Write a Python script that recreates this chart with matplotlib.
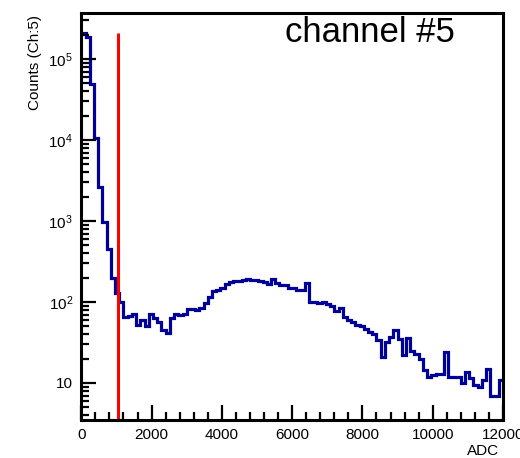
import matplotlib
matplotlib.use("Agg")
import matplotlib.pyplot as plt
import numpy as np
from matplotlib.ticker import FixedLocator, LogLocator, NullFormatter, MultipleLocator

plt.rcParams['font.family'] = ['Liberation Sans', 'DejaVu Sans']

# ---- data ----
adc_min = 0
adc_max = 12000
n_bins = 100
counts = [
    2.1e5, 1.87e5, 4.9e4, 1.05e4, 2630, 960, 450, 198, 129, 100,
    66, 68, 71, 52, 60, 50, 72, 63, 57, 45,
    41, 63, 72, 70, 72, 82, 82, 80, 85, 96,
    116, 138, 140, 150, 166, 175, 180, 183, 185, 190,
    188, 186, 184, 176, 166, 190, 172, 162, 162, 150,
    148, 141, 141, 170, 100, 100, 98, 100, 95, 88,
    78, 85, 66, 60, 57, 52, 50, 47, 43, 40,
    34, 21, 32, 37, 45, 35, 22, 36, 25, 23,
    20, 14.5, 12, 12.6, 13, 13, 24, 11.7, 11.7, 11.7,
    10, 13.8, 11.5, 9.4, 9, 11, 14.8, 7, 7, 11,
]
threshold_adc = 1040
title = "channel #5"
xlabel = "ADC"
ylabel = "Counts (Ch:5)"
x_ticks = [0, 2000, 4000, 6000, 8000, 10000, 12000]
x_tick_labels = ["0", "2000", "4000", "6000", "8000", "10000", "12000"]
y_ticks = [10, 1e2, 1e3, 1e4, 1e5]
y_tick_labels = ["10", r"$\mathregular{10^{2}}$", r"$\mathregular{10^{3}}$",
                 r"$\mathregular{10^{4}}$", r"$\mathregular{10^{5}}$"]
y_range = (3.49, 3.7e5)

# ---- figure ----
W, H = 520, 458
fig = plt.figure(figsize=(W / 100, H / 100), dpi=100)
ax = fig.add_axes([81.3 / W, 1 - 420 / H, (503 - 81.3) / W, (420 - 13) / H])

edges = np.linspace(adc_min, adc_max, n_bins + 1)
ax.stairs(counts, edges, baseline=None, color='#000099', linewidth=2.3)
ax.plot([threshold_adc, threshold_adc], [y_range[0], max(counts)],
        color='#ff0000', linewidth=2.2, solid_capstyle='butt')

ax.set_yscale('log')
ax.set_xlim(adc_min, adc_max)
ax.set_ylim(*y_range)

ax.xaxis.set_major_locator(FixedLocator(x_ticks))
ax.set_xticklabels(x_tick_labels)
ax.xaxis.set_minor_locator(MultipleLocator(400))
ax.yaxis.set_major_locator(FixedLocator(y_ticks))
ax.set_yticklabels(y_tick_labels)
ax.yaxis.set_minor_locator(LogLocator(base=10, subs=np.arange(2, 10)))
ax.yaxis.set_minor_formatter(NullFormatter())

ax.tick_params(which='both', direction='in', top=False, right=False,
               labelsize=11, width=1.6, color='black')
ax.tick_params(which='major', length=11)
ax.tick_params(which='minor', length=6)
ax.tick_params(axis='x', pad=6)
ax.tick_params(axis='y', pad=6)
for s in ax.spines.values():
    s.set_linewidth(2.2)
    s.set_color('black')

fig.text(285 / W, 1 - 42 / H, title, fontsize=25, ha='left', va='baseline')
fig.text(35 / W, 1 - 15 / H, ylabel, rotation=90, ha='center', va='top', fontsize=11)
fig.text(499 / W, 1 - 455 / H, xlabel, ha='right', va='baseline', fontsize=11)

fig.savefig('out.png', dpi=100)
